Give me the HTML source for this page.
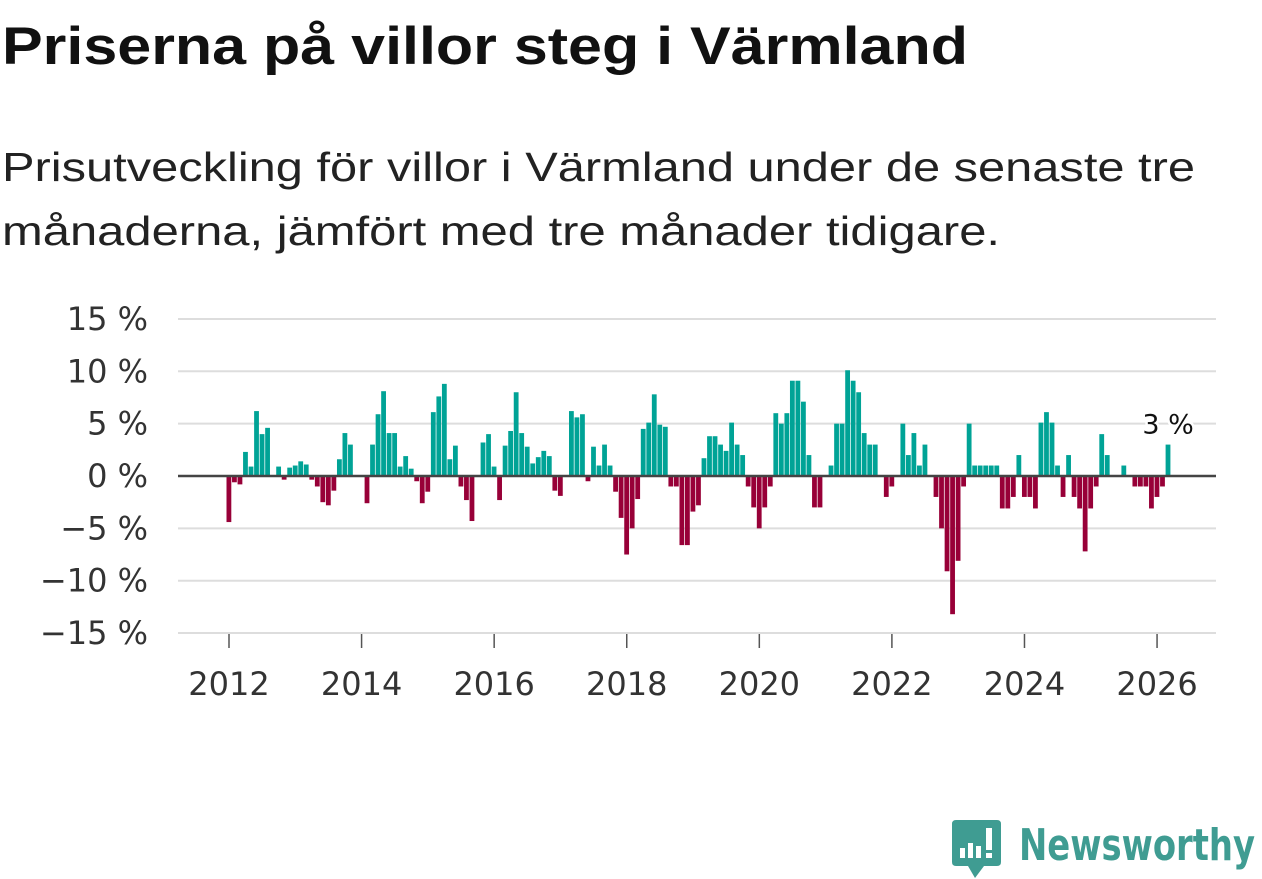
<!DOCTYPE html>
<html><head><meta charset="utf-8"><style>
html,body{margin:0;padding:0;background:#fff;}
body{width:1262px;height:879px;position:relative;overflow:hidden;font-family:"Liberation Sans","DejaVu Sans",sans-serif;}
svg{position:absolute;left:0;top:0;}
</style></head><body>
<svg width="1262" height="879">
  <text x="2" y="64" font-size="53" font-weight="bold" fill="#111" textLength="966" lengthAdjust="spacingAndGlyphs">Priserna på villor steg i Värmland</text>
  <g font-size="41" fill="#222">
    <text x="2" y="181" textLength="1193" lengthAdjust="spacingAndGlyphs">Prisutveckling för villor i Värmland under de senaste tre</text>
    <text x="2" y="245" textLength="998" lengthAdjust="spacingAndGlyphs">månaderna, jämfört med tre månader tidigare.</text>
  </g>
</svg>
<svg id="chart" width="1262" height="879"></svg>
<svg width="1262" height="879" style="pointer-events:none">
  <path d="M956 820 H997 Q1001 820 1001 824 V862 Q1001 866 997 866 H984 L975 878 L968 866 H956 Q952 866 952 862 V824 Q952 820 956 820 Z" fill="#3f9c92"/>
  <rect x="960" y="848" width="5" height="10" fill="#fff"/>
  <rect x="968" y="843" width="5" height="15" fill="#fff"/>
  <rect x="976" y="846" width="5" height="12" fill="#fff"/>
  <rect x="986" y="828" width="6" height="22" fill="#fff"/>
  <rect x="986" y="853" width="6" height="5" fill="#fff"/>
  <text x="1019" y="860" font-size="44" font-weight="bold" fill="#3f9c92" font-family="DejaVu Sans, sans-serif" textLength="236" lengthAdjust="spacingAndGlyphs">Newsworthy</text>
</svg>
<script>
const values = [-4.4,-0.6,-0.8,2.3,0.9,6.2,4.0,4.6,0,0.9,-0.35,0.8,
1.0,1.4,1.1,-0.35,-1.0,-2.5,-2.8,-1.4,1.6,4.1,3.0,0,
0,-2.6,3.0,5.9,8.1,4.1,4.1,0.9,1.9,0.7,-0.5,-2.6,
-1.5,6.1,7.6,8.8,1.6,2.9,-1.0,-2.3,-4.3,0,3.2,4.0,
0.9,-2.3,2.9,4.3,8.0,4.1,2.8,1.2,1.8,2.4,1.9,-1.4,
-1.9,0,6.2,5.6,5.9,-0.5,2.8,1.0,3.0,1.0,-1.5,-4.0,
-7.5,-5.0,-2.2,4.5,5.1,7.8,4.9,4.7,-1.0,-1.0,-6.6,-6.6,
-3.4,-2.8,1.7,3.8,3.8,3.0,2.4,5.1,3.0,2.0,-1.0,-3.0,
-5.0,-3.0,-1.0,6.0,5.0,6.0,9.1,9.1,7.1,2.0,-3.0,-3.0,
0,1.0,5.0,5.0,10.1,9.1,8.0,4.1,3.0,3.0,0,-2.0,
-1.0,0,5.0,2.0,4.1,1.0,3.0,0,-2.0,-5.0,-9.1,-13.2,
-8.1,-1.0,5.0,1.0,1.0,1.0,1.0,1.0,-3.1,-3.1,-2.0,2.0,
-2.0,-2.0,-3.1,5.1,6.1,5.1,1.0,-2.0,2.0,-2.0,-3.1,-7.2,
-3.1,-1.0,4.0,2.0,0,0,1.0,0,-1.0,-1.0,-1.0,-3.1,
-2.0,-1.0,3.0];
const startYear = 2012;
const yTicks = [15,10,5,0,-5,-10,-15];
const yTickLabels = ["15 %","10 %","5 %","0 %","\u22125 %","\u221210 %","\u221215 %"];
const xTickYears = [2012,2014,2016,2018,2020,2022,2024,2026];
const lastLabel = "3 %";

const NS="http://www.w3.org/2000/svg";
const svg=document.getElementById('chart');
const x0=178,x1=1216;
const yScale=v=>476-v*10.47;
const xScale=m=>229+m*(66.29/12);
function mk(tag,attrs){const e=document.createElementNS(NS,tag);for(const k in attrs)e.setAttribute(k,attrs[k]);svg.appendChild(e);return e;}
yTicks.forEach((t,i)=>{
  if(t!==0){const g=mk('line',{x1:x0,x2:x1,y1:yScale(t),y2:yScale(t),stroke:'#dddddd','stroke-width':2});
  
  }
  const lbl=yTickLabels[i];
  const l=mk('text',{x:148,y:yScale(t)+11,'text-anchor':'end','font-size':32,fill:'#333','font-family':'DejaVu Sans, sans-serif'});
  l.textContent=lbl;
  
  
});
xTickYears.forEach(y=>{
  const x=xScale((y-startYear)*12);
  const t=mk('line',{x1:x,x2:x,y1:634,y2:648,stroke:'#555','stroke-width':1.5});
  
  
  const l=mk('text',{x:x,y:695,'text-anchor':'middle','font-size':32,fill:'#333','font-family':'DejaVu Sans, sans-serif'});
  l.textContent=y;
  
  
});
values.forEach((v,i)=>{
  if(v===0)return;
  const x=xScale(i);
  const y=v>0?yScale(v):yScale(0);
  const b=mk('rect',{x:x-2.5,y:y,width:4.8,height:Math.abs(yScale(v)-yScale(0)),fill:v>0?'#00a396':'#980038'});
  
  
});
const z=mk('line',{x1:x0,x2:x1,y1:yScale(0),y2:yScale(0),stroke:'#444','stroke-width':2.5});


const li=values.length-1;
const lab=mk('text',{x:xScale(li),y:yScale(values[li])-11,'text-anchor':'middle','font-size':27,fill:'#111',stroke:'#fff','stroke-width':5,'paint-order':'stroke','font-family':'DejaVu Sans, sans-serif'});
lab.textContent=lastLabel;


</script>
</body></html>
